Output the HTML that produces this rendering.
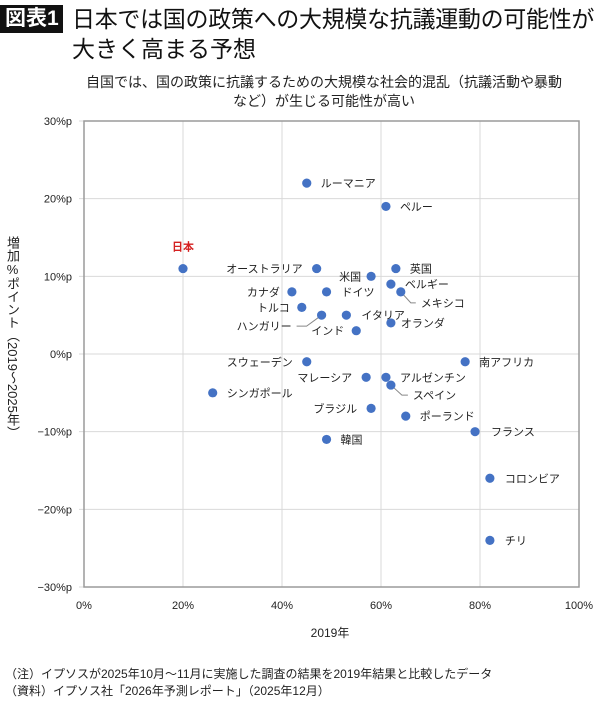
<!DOCTYPE html>
<html><head><meta charset="utf-8">
<style>
body{margin:0;width:600px;height:706px;background:#fff;font-family:"Liberation Sans","Noto Sans CJK JP",sans-serif;overflow:hidden;position:relative}
.badge{position:absolute;left:0;top:5px;background:#111;color:#fff;font-size:21px;line-height:28px;padding:0 4px 0 5px;font-weight:bold}
.t1{position:absolute;left:72px;top:4px;font-size:23px;line-height:30px;letter-spacing:-0.3px;white-space:nowrap;color:#111}
.t2{position:absolute;left:72px;top:34px;font-size:23px;line-height:30px;color:#111}
.sub{position:absolute;left:24px;width:600px;top:73px;text-align:center;font-size:14px;line-height:19px;color:#222;white-space:nowrap}
.ytitle{position:absolute;left:4px;top:236px;font-size:13px;line-height:16px;color:#222;writing-mode:vertical-rl;white-space:nowrap}
.note{position:absolute;left:5px;top:666px;font-size:12px;line-height:17px;color:#222;white-space:nowrap}
svg{position:absolute;left:0;top:0}
</style></head><body>
<div class="badge">図表1</div>
<div class="t1">日本では国の政策への大規模な抗議運動の可能性が</div>
<div class="t2">大きく高まる予想</div>
<div class="sub">自国では、国の政策に抗議するための大規模な社会的混乱（抗議活動や暴動<br>など）が生じる可能性が高い</div>
<svg id="chart" width="600" height="706"></svg>
<div class="ytitle">増加<span style="text-orientation:upright">%</span>ポイント（2019～2025年）</div>
<div class="note">（注）イプソスが2025年10月～11月に実施した調査の結果を2019年結果と比較したデータ<br>（資料）イプソス社「2026年予測レポート」（2025年12月）</div>
<script>
const countries=["日本","ルーマニア","ペルー","オーストラリア","英国","米国","ベルギー","メキシコ","カナダ","ドイツ","トルコ","ハンガリー","イタリア","オランダ","インド","スウェーデン","南アフリカ","マレーシア","アルゼンチン","スペイン","シンガポール","ブラジル","ポーランド","韓国","フランス","コロンビア","チリ"];
const x2019=[20,45,61,47,63,58,62,64,42,49,44,48,53,62,55,45,77,57,61,62,26,58,65,49,79,82,82];
const change=[11,22,19,11,11,10,9,8,8,8,6,5,5,4,3,-1,-1,-3,-3,-4,-5,-7,-8,-11,-10,-16,-24];
const xTicks=[0,20,40,60,80,100];
const yTicks=[30,20,10,0,-10,-20,-30];
// label placement (style): [dx,dy,anchor,leader]
const lab={"日本":[0,-18,"middle"],"ルーマニア":[14,4,"start"],"ペルー":[14,4,"start"],"オーストラリア":[-14,4,"end"],"英国":[14,4,"start"],"米国":[-10,4,"end"],"ベルギー":[14,4,"start"],"メキシコ":[20,15,"start",1],"カナダ":[-12,4,"end"],"ドイツ":[15,4,"start"],"トルコ":[-12,4,"end"],"ハンガリー":[-30,15,"end",1],"イタリア":[15,4,"start"],"オランダ":[10,4,"start"],"インド":[-12,4,"end"],"スウェーデン":[-14,4,"end"],"南アフリカ":[14,4,"start"],"マレーシア":[-14,4,"end"],"アルゼンチン":[14,4,"start"],"スペイン":[22,14,"start",1],"シンガポール":[14,4,"start"],"ブラジル":[-14,4,"end"],"ポーランド":[14,4,"start"],"韓国":[14,4,"start"],"フランス":[16,4,"start"],"コロンビア":[15,4,"start"],"チリ":[15,4,"start"]};
const X0=84,X1=579,YT=121,YB=587;
const sx=v=>X0+(v-0)/100*(X1-X0);
const sy=v=>YB-(v+30)/60*(YB-YT);
const svg=document.getElementById('chart');
const NS="http://www.w3.org/2000/svg";
function mk(t,a,txt){const e=document.createElementNS(NS,t);for(const k in a)e.setAttribute(k,a[k]);if(txt!=null)e.textContent=txt;svg.appendChild(e);return e;}
xTicks.forEach(v=>{
 const g=mk('line',{x1:sx(v),x2:sx(v),y1:YT,y2:YB,stroke:'#d9d9d9','stroke-width':1});
 
 
 const t=mk('text',{x:sx(v),y:YB+22,'text-anchor':'middle','font-size':11,fill:'#222'},v+'%');
 
 
});
yTicks.forEach(v=>{
 const g=mk('line',{x1:X0-5,x2:X1,y1:sy(v),y2:sy(v),stroke:'#d9d9d9','stroke-width':1});
 
 
 const t=mk('text',{x:X0-12,y:sy(v)+4,'text-anchor':'end','font-size':11,fill:'#222'},(v<0?'−':'')+Math.abs(v)+'%p');
 
 
});
const fr=mk('rect',{x:X0,y:YT,width:X1-X0,height:YB-YT,fill:'none',stroke:'#9a9a9a','stroke-width':1.5});


countries.forEach((c,i)=>{
 const px=sx(x2019[i]),py=sy(change[i]);const L=lab[c]||[12,4,'start'];
 if(L[3]){
  const ld=mk('polyline',{points:`${px},${py} ${px+L[0]*0.5},${py+L[1]-4} ${px+L[0]+(L[2]=='end'?5:-5)},${py+L[1]-4}`,fill:'none',stroke:'#888','stroke-width':1});
  
  
 }
 const d=mk('circle',{cx:px,cy:py,r:4.6,fill:'#4472c4'});
 
 
 const t=mk('text',{x:px+L[0],y:py+L[1],'text-anchor':L[2],'font-size':11,fill:c=='日本'?'#d42020':'#222','font-weight':c=='日本'?'bold':'normal'},c);
 
 
});
const xt=mk('text',{x:330,y:637,'text-anchor':'middle','font-size':12,fill:'#222'},'2019年');


</script>
</body></html>
